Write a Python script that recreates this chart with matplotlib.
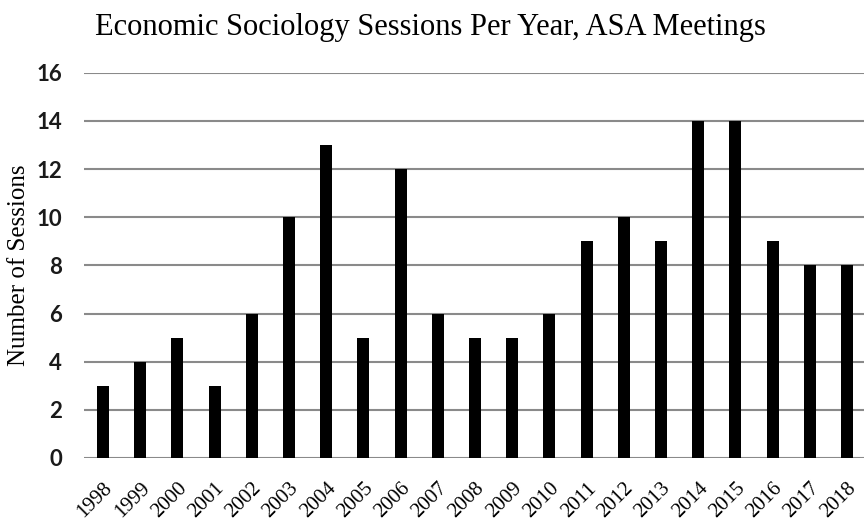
import matplotlib
matplotlib.use("Agg")
import matplotlib.pyplot as plt
from matplotlib.transforms import ScaledTranslation

years = ["1998", "1999", "2000", "2001", "2002", "2003", "2004", "2005", "2006", "2007",
         "2008", "2009", "2010", "2011", "2012", "2013", "2014", "2015", "2016", "2017", "2018"]
sessions = [3, 4, 5, 3, 6, 10, 13, 5, 12, 6, 5, 5, 6, 9, 10, 9, 14, 14, 9, 8, 8]
y_ticks = [0, 2, 4, 6, 8, 10, 12, 14, 16]

fig = plt.figure(figsize=(8.64, 5.21), dpi=100)
ax = fig.add_axes([84.4 / 864, 1 - 458 / 521, 781.2 / 864, (458 - 72.7) / 521])

ax.bar(range(len(years)), sessions, width=0.32, color="black", zorder=3)
ax.set_xlim(-0.5, len(years) - 0.5)
ax.set_ylim(0, 16)
ax.set_yticks(y_ticks)
ax.set_yticklabels([str(t) for t in y_ticks], family="Lato", fontsize=16,
                   fontweight="bold", color="#1a1a1a")
ax.set_xticks(range(len(years)))
ax.set_xticklabels(years, rotation=45, ha="right", va="top", rotation_mode="anchor",
                   family="Liberation Serif", fontsize=15)
# nudge year labels a bit to the right, like the original
shift = ScaledTranslation(7 / 100, 0, fig.dpi_scale_trans)
for lbl in ax.get_xticklabels():
    lbl.set_transform(lbl.get_transform() + shift)
ax.tick_params(axis="both", length=0)
ax.tick_params(axis="y", pad=16)
ax.tick_params(axis="x", pad=15)
ax.grid(axis="y", color="#8a8a8a", linewidth=1.5, zorder=0)
for s in ["top", "right", "left", "bottom"]:
    ax.spines[s].set_visible(False)

ax.set_ylabel("Number of Sessions", family="Liberation Serif", fontsize=18)
ax.yaxis.set_label_coords(-54 / 781.2, 0.5)
fig.text(0.498, 0.948, "Economic Sociology Sessions Per Year, ASA Meetings",
         family="Liberation Serif", fontsize=22, ha="center", va="center")

fig.savefig("out.png", dpi=100)
